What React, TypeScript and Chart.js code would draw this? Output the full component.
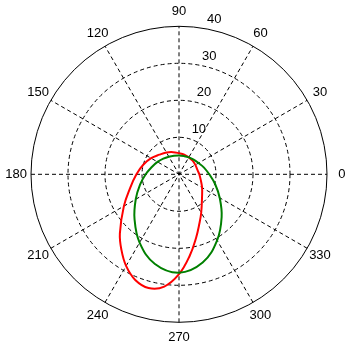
import React, { useEffect, useRef } from "react";
import { Chart, registerables } from "chart.js";

Chart.register(...registerables);

// Polar data (angle in degrees, radius in data units)
const greenTheta = [0, 15, 30, 45, 60, 75, 90, 105, 120, 135, 150, 165, 180, 195, 210, 225, 240, 255, 270, 285, 300, 315, 330, 345];
const greenR = [8.2, 7.0, 6.1, 5.6, 5.3, 5.1, 5.1, 5.2, 5.5, 6.0, 6.7, 7.6, 9.0, 10.9, 13.5, 17.0, 21.3, 25.1, 26.6, 24.7, 20.6, 16.3, 12.7, 10.1];

const redTheta = [0, 15, 30, 45, 60, 75, 90, 105, 120, 135, 150, 165, 180, 195, 210, 225, 232.5, 240, 247.5, 255, 262.5, 270, 277.5, 285, 292.5, 300, 315, 330, 345];
const redR = [5.5, 5.1, 5.1, 5.2, 5.3, 5.5, 5.7, 6.2, 6.8, 7.5, 8.7, 10.0, 11.5, 13.6, 17.2, 22.6, 25.6, 28.6, 30.9, 31.8, 30.6, 27.0, 22.2, 17.8, 14.4, 12.0, 8.8, 7.2, 6.1];

const radialTicks = [10, 20, 30, 40];
const angleTicks = [0, 30, 60, 90, 120, 150, 180, 210, 240, 270, 300, 330];
const rMax = 40;

function toXY(theta: number[], r: number[]) {
  const pts = theta.map((t, i) => {
    const a = (t * Math.PI) / 180;
    return { x: r[i] * Math.cos(a), y: r[i] * Math.sin(a) };
  });
  pts.push({ ...pts[0] });
  return pts;
}

const FONT = '13px "Liberation Sans", Arial, Helvetica, sans-serif';

const polarGrid = {
  id: "polarGrid",
  beforeDatasetsDraw(chart: any) {
    const { ctx } = chart;
    const xs = chart.scales.x;
    const ys = chart.scales.y;
    const cx = xs.getPixelForValue(0);
    const cy = ys.getPixelForValue(0);
    const pxPerUnit = xs.getPixelForValue(1) - cx;
    ctx.save();
    // white disc
    ctx.fillStyle = "#ffffff";
    ctx.beginPath();
    ctx.arc(cx, cy, rMax * pxPerUnit, 0, Math.PI * 2);
    ctx.fill();
    ctx.strokeStyle = "#000000";
    ctx.lineWidth = 1;
    // spokes
    ctx.setLineDash([4, 3]);
    for (let k = 0; k < 6; k++) {
      const a = (k * 30 * Math.PI) / 180;
      ctx.beginPath();
      ctx.moveTo(xs.getPixelForValue(-rMax * Math.cos(a)), ys.getPixelForValue(-rMax * Math.sin(a)));
      ctx.lineTo(xs.getPixelForValue(rMax * Math.cos(a)), ys.getPixelForValue(rMax * Math.sin(a)));
      ctx.stroke();
    }
    // inner circles
    radialTicks.forEach((r) => {
      if (r >= rMax) return;
      ctx.beginPath();
      ctx.arc(cx, cy, r * pxPerUnit, 0, Math.PI * 2);
      ctx.stroke();
    });
    // outer circle
    ctx.setLineDash([]);
    ctx.beginPath();
    ctx.arc(cx, cy, rMax * pxPerUnit, 0, Math.PI * 2);
    ctx.stroke();
    // angle labels
    ctx.fillStyle = "#000000";
    ctx.font = FONT;
    ctx.textAlign = "center";
    ctx.textBaseline = "middle";
    const rt = 1.1 * rMax;
    angleTicks.forEach((t) => {
      const a = (t * Math.PI) / 180;
      ctx.fillText(String(t), xs.getPixelForValue(rt * Math.cos(a)), ys.getPixelForValue(rt * Math.sin(a)));
    });
    // radial labels
    ctx.textAlign = "left";
    ctx.textBaseline = "bottom";
    const a82 = (82 * Math.PI) / 180;
    radialTicks.forEach((r) => {
      const rr = r + 0.5;
      ctx.fillText("  " + String(r), xs.getPixelForValue(rr * Math.cos(a82)), ys.getPixelForValue(rr * Math.sin(a82)));
    });
    ctx.restore();
  },
};

export default function App() {
  const ref = useRef<HTMLCanvasElement | null>(null);
  useEffect(() => {
    if (!ref.current) return;
    const R = 44;
    const chart = new Chart(ref.current, {
      type: "scatter",
      data: {
        datasets: [
          {
            data: toXY(greenTheta, greenR),
            showLine: true,
            borderColor: "#008000",
            borderWidth: 2,
            pointRadius: 0,
            tension: 0.4,
            fill: false,
          },
          {
            data: toXY(redTheta, redR),
            showLine: true,
            borderColor: "#ff0000",
            borderWidth: 2,
            pointRadius: 0,
            tension: 0.4,
            fill: false,
          },
        ],
      },
      options: {
        animation: false,
        responsive: false,
        maintainAspectRatio: false,
        layout: { padding: { left: 16.2, right: 11.2, top: 11.5, bottom: 9.9 } },
        plugins: { legend: { display: false }, tooltip: { enabled: false } },
        scales: {
          x: { type: "linear", min: -R, max: R, display: false },
          y: { type: "linear", min: -R, max: R, display: false },
        },
      },
      plugins: [polarGrid],
    });
    return () => chart.destroy();
  }, []);
  return (
    <div style={{ position: "absolute", left: 0, top: 0, width: 353, height: 347, background: "#ffffff" }}>
      <canvas ref={ref} width={353} height={347} />
    </div>
  );
}
